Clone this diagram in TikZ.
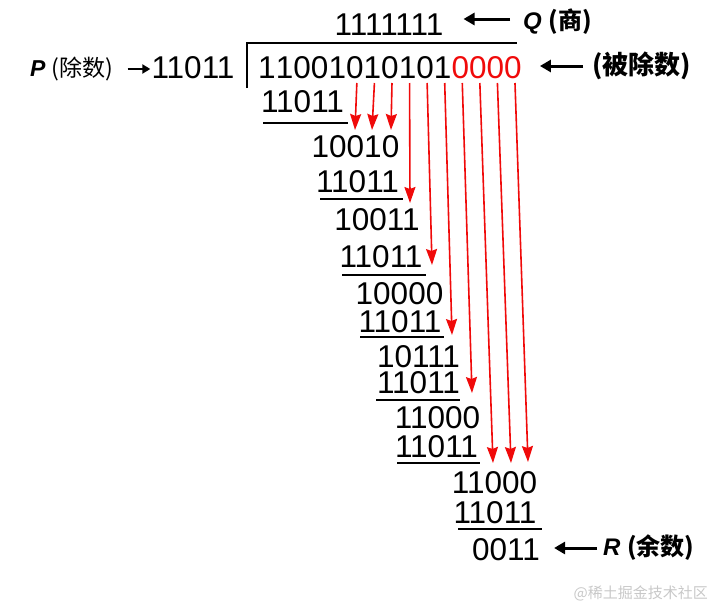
\documentclass[tikz,border=0pt]{standalone}
\usepackage{fontspec}
\setmainfont{Liberation Sans}
\newfontfamily\cjk{Noto Sans CJK SC}
\usetikzlibrary{arrows.meta}
\definecolor{bitred}{RGB}{240,10,10}
\definecolor{wmgray}{RGB}{200,200,200}

\begin{document}
\begin{tikzpicture}[x=1pt, y=-1pt, % ピクセル座標、yは下向き
  num/.style={font=\fontsize{31.5}{36}\selectfont, inner sep=0pt, anchor=base},
  lab/.style={font=\fontsize{23}{27}\selectfont, inner sep=0pt, anchor=west},
  bar/.style={line width=2.8pt},
  bring/.style={bitred, line width=1.6pt, -{Stealth[length=16pt, width=11pt, inset=2pt]}},
  point/.style={line width=3pt, -{Triangle[length=11pt, width=12pt]}}]
  \useasboundingbox (0,0) rectangle (714,605);
  \node[num] (q) at (389,35) {1111111}; % 商
  \node[num] (dvs) at (193,78) {11011}; % 除数
  \foreach \b [count=\i from 0] in {1,1,0,0,1,0,1,0,1,0,1} % 被除数
    \node[num] (d\i) at (267+17.57*\i,78) {\b};
  \foreach \i in {11,...,14} % 付け足した0
    \node[num, text=bitred] (d\i) at (267+17.57*\i,78) {0};
  \draw[bar] (247,88) -- (247,43) -- (517,43); % 割り算の記号
  % 引き算の各段
  \node[num] (s1) at (302.5,112) {11011};
  \node[num] (r1) at (355.5,157) {10010};
  \node[num] (s2) at (357.5,192) {11011};
  \node[num] (r2) at (377,230) {10011};
  \node[num] (s3) at (381,267) {11011};
  \node[num] (r3) at (399.5,304) {10000};
  \node[num] (s4) at (400,332) {11011};
  \node[num] (r4) at (418.5,367) {10111};
  \node[num] (s5) at (418.5,393) {11011};
  \node[num] (r5) at (437.5,428) {11000};
  \node[num] (s6) at (436.5,457) {11011};
  \node[num] (r6) at (494.5,493) {11000};
  \node[num] (s7) at (495,523) {11011};
  \node[num] (rem) at (506,560) {0011}; % 余り
  \foreach \xa/\xb/\y in {263/348/123, 320/403/199, 342/426/275, 360/444/337,
                          376/460/400, 397/480/463, 458/542/529} % 下線
    \draw[bar] (\xa,\y) -- (\xb,\y);
  \foreach \i/\ex/\ey in {5/355/130, 6/372/130, 7/391/130, 8/410/203, 9/432/265,
                          10/452/335, 11/472/393, 12/493/463, 13/511/463, 14/528/462}
  { \coordinate (e\i) at (\ex,\ey); % 下ろす先
    \draw[bring] ([xshift=2pt, yshift=-5pt]d\i.base) -- (e\i); }
  % ラベル
  \node[lab] (plab) at (30,69) {\textbf{\textit{P}} {\cjk (除数)}};
  \node[lab, font=\fontsize{24}{28}\selectfont] (qlab) at (523,22) {\textbf{\textit{Q}} {\cjk\bfseries (商)}};
  \node[lab, font=\fontsize{26}{30}\selectfont] (dlab) at (592,66) {\cjk\bfseries (被除数)};
  \node[lab, font=\fontsize{24}{28}\selectfont] (rlab) at (603,548) {\textbf{\textit{R}} {\cjk\bfseries (余数)}};
  \node[font={\cjk\fontsize{15}{18}\selectfont}, text=wmgray, inner sep=0pt, anchor=east] (wm) at (708,593) {@稀土掘金技术社区};
  \coordinate (qa) at ([yshift=3pt]qlab.west);
  \draw[point, shorten <=13pt, shorten >=20pt] (qa) -- (qa -| q.east);
  \draw[point, line width=2.2pt, -{Triangle[length=8pt, width=9pt]}, shorten <=14pt, shorten >=1pt] (plab.east) -- (plab.east -| dvs.west);
  \draw[point, shorten <=9pt, shorten >=18pt] (dlab.west) -- (dlab.west -| d14.east);
  \draw[point, shorten <=6pt, shorten >=14pt] (rlab.west) -- (rlab.west -| rem.east);
\end{tikzpicture}
\end{document}
